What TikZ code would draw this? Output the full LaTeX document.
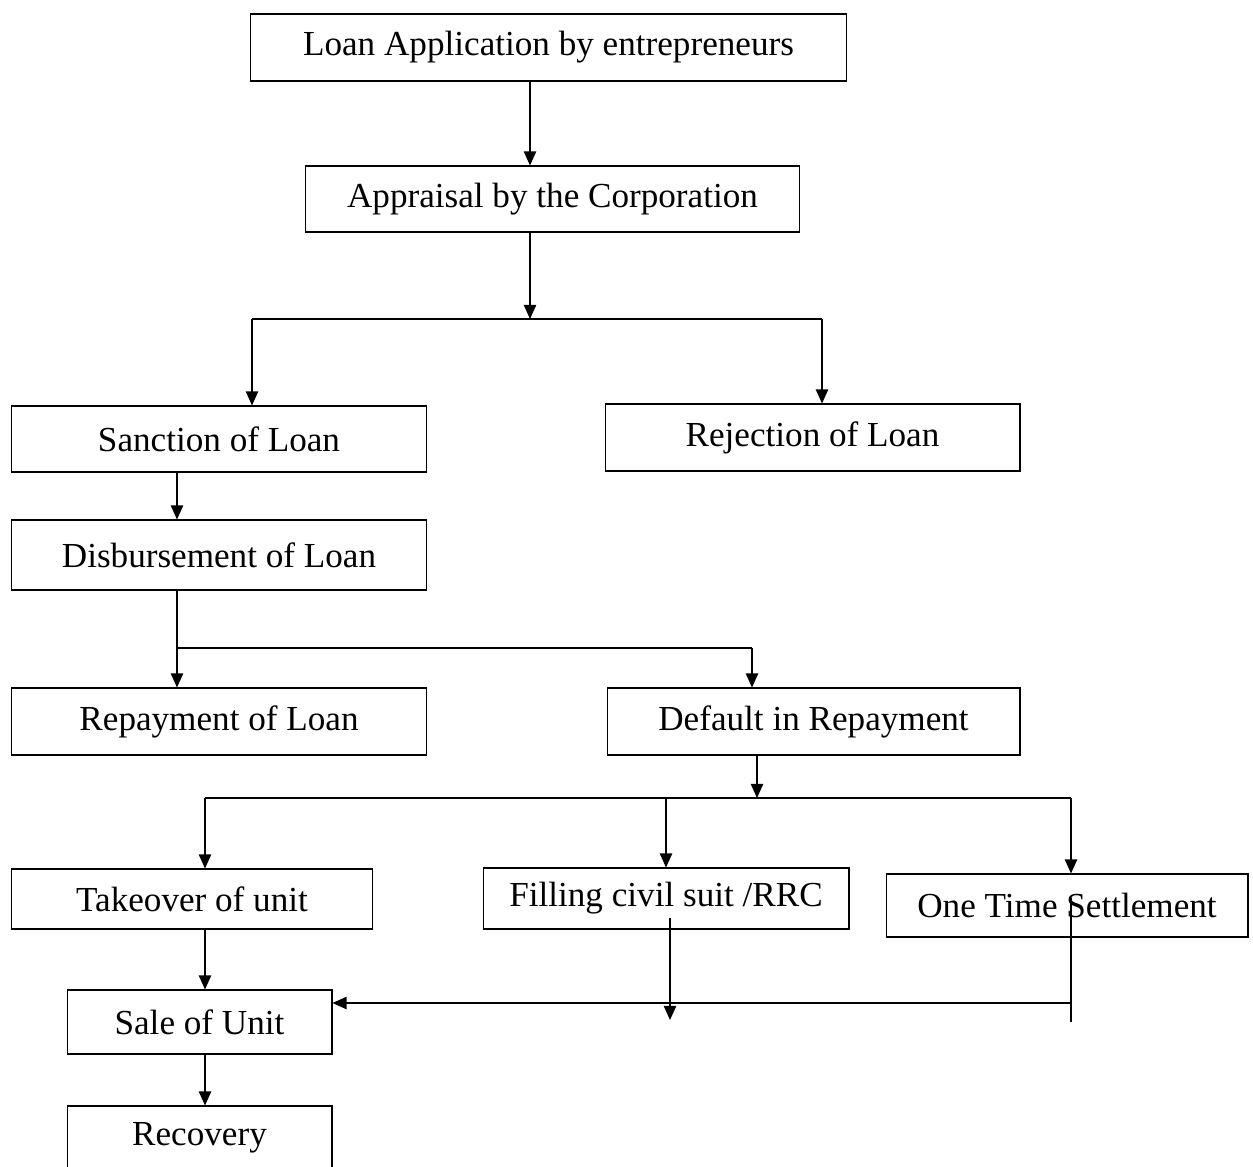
\documentclass[tikz,border=0pt]{standalone}
\usepackage{fontspec}
\setmainfont{Liberation Serif}
\usetikzlibrary{arrows.meta,positioning}

\begin{document}
\begin{tikzpicture}[x=0.02cm, y=-0.02cm,
        box/.style={rectangle, draw, semithick, inner sep=2pt, minimum height=1.32cm, font=\fontsize{20}{24}\selectfont},
        arrow/.style={-{Triangle[length=8pt,width=7pt]}, thick}
    ]
        \useasboundingbox (0,0) rectangle (1253,1166);
        \node[box, minimum width=11.94cm, minimum height=1.34cm] (apply) at (548.5,47.5) {Loan Application by entrepreneurs};
        \node[box, minimum width=9.9cm] (appraise) at (552.5,199) {Appraisal by the Corporation};
        \node[box, minimum width=8.32cm] (sanction) at (219,439) {Sanction of Loan};
        \node[box, minimum width=8.3cm, minimum height=1.34cm] (reject) at (812.5,437.5) {Rejection of Loan};
        \node[box, minimum width=8.32cm, minimum height=1.4cm] (disburse) at (219,555) {Disbursement of Loan};
        \node[box, minimum width=8.32cm, minimum height=1.34cm] (repay) at (219,721.5) {Repayment of Loan};
        \node[box, minimum width=8.26cm, minimum height=1.34cm] (default) at (813.5,721.5) {Default in Repayment};
        \node[box, minimum width=7.24cm, minimum height=1.2cm] (takeover) at (192,899) {Takeover of unit};
        \node[box, minimum width=7.32cm, minimum height=1.22cm] (suit) at (666,898.5) {Filling civil suit /RRC};
        \node[box, minimum width=7.24cm, minimum height=1.26cm] (ots) at (1067,905.5) {One Time Settlement};
        \node[box, minimum width=5.3cm, minimum height=1.28cm] (sale) at (199.5,1022) {Sale of Unit};
        \node[box, minimum width=5.3cm, minimum height=1.28cm] (recovery) at (199.5,1138) {Recovery};

        % branch points
        \coordinate (fork1) at (530,319);
        \coordinate (fork1l) at (252,319);
        \coordinate (fork1r) at (822,319);
        \coordinate (fork2) at (177,648);
        \coordinate (fork2r) at (752,648);
        \coordinate (fork3) at (757,798);
        \coordinate (fork3l) at (205,798);
        \coordinate (fork3m) at (666,798);
        \coordinate (fork3r) at (1071,798);
        \coordinate (suittop) at (670,918);
        \coordinate (suitend) at (670,1020);
        \coordinate (otstop) at (1071,898);
        \coordinate (otsend) at (1071,1022);
        \coordinate (merge) at (1071,1003);

        \draw[arrow] (apply.south -| fork1) -- (appraise.north -| fork1);
        \draw[arrow] (appraise.south -| fork1) -- (fork1);
        \draw[thick] (fork1l) -- (fork1r);
        \draw[arrow] (fork1l) -- (fork1l |- sanction.north);
        \draw[arrow] (fork1r) -- (fork1r |- reject.north);
        \draw[arrow] (sanction.south -| fork2) -- (disburse.north -| fork2);
        \draw[arrow] (disburse.south -| fork2) -- (repay.north -| fork2);
        \draw[thick] (fork2) -- (fork2r);
        \draw[arrow] (fork2r) -- (fork2r |- default.north);
        \draw[arrow] (default.south -| fork3) -- (fork3);
        \draw[thick] (fork3l) -- (fork3r);
        \draw[arrow] (fork3l) -- (fork3l |- takeover.north);
        \draw[arrow] (fork3m) -- (fork3m |- suit.north);
        \draw[arrow] (fork3r) -- (fork3r |- ots.north);
        \draw[arrow] (takeover.south -| fork3l) -- (sale.north -| fork3l);
        \draw[arrow] (suittop) -- (suitend);
        \draw[semithick] (otstop) -- (otsend);
        \draw[arrow] (merge) -- (merge -| sale.east);
        \draw[arrow] (sale.south -| fork3l) -- (recovery.north -| fork3l);
    \end{tikzpicture}
\end{document}
